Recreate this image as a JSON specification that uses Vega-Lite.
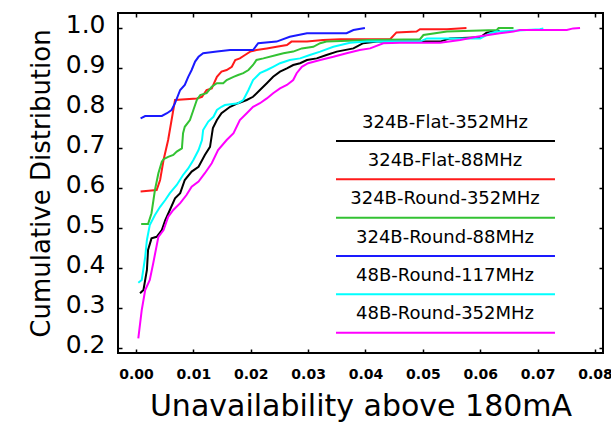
{
  "$schema": "https://vega.github.io/schema/vega-lite/v6.json",
  "width": 485,
  "height": 340,
  "autosize": "none",
  "padding": {"left": 118, "top": 13, "right": 8, "bottom": 69},
  "background": "white",
  "config": {
    "view": {"stroke": "#000000", "strokeWidth": 2},
    "font": "DejaVu Sans"
  },
  "datasets": {
    "curves": [
      {"s": "324B-Flat-352MHz", "x": 0.0007, "y": 0.337},
      {"s": "324B-Flat-352MHz", "x": 0.0013, "y": 0.345},
      {"s": "324B-Flat-352MHz", "x": 0.0019, "y": 0.395},
      {"s": "324B-Flat-352MHz", "x": 0.0021, "y": 0.445},
      {"s": "324B-Flat-352MHz", "x": 0.0027, "y": 0.474},
      {"s": "324B-Flat-352MHz", "x": 0.0036, "y": 0.478},
      {"s": "324B-Flat-352MHz", "x": 0.0045, "y": 0.495},
      {"s": "324B-Flat-352MHz", "x": 0.0051, "y": 0.52},
      {"s": "324B-Flat-352MHz", "x": 0.0059, "y": 0.545},
      {"s": "324B-Flat-352MHz", "x": 0.0068, "y": 0.574},
      {"s": "324B-Flat-352MHz", "x": 0.0077, "y": 0.587},
      {"s": "324B-Flat-352MHz", "x": 0.0085, "y": 0.62},
      {"s": "324B-Flat-352MHz", "x": 0.0097, "y": 0.641},
      {"s": "324B-Flat-352MHz", "x": 0.0109, "y": 0.653},
      {"s": "324B-Flat-352MHz", "x": 0.012, "y": 0.6825},
      {"s": "324B-Flat-352MHz", "x": 0.0129, "y": 0.703},
      {"s": "324B-Flat-352MHz", "x": 0.0134, "y": 0.75},
      {"s": "324B-Flat-352MHz", "x": 0.0141, "y": 0.77},
      {"s": "324B-Flat-352MHz", "x": 0.0149, "y": 0.787},
      {"s": "324B-Flat-352MHz", "x": 0.0164, "y": 0.803},
      {"s": "324B-Flat-352MHz", "x": 0.0178, "y": 0.812},
      {"s": "324B-Flat-352MHz", "x": 0.0193, "y": 0.82},
      {"s": "324B-Flat-352MHz", "x": 0.0204, "y": 0.828},
      {"s": "324B-Flat-352MHz", "x": 0.0216, "y": 0.845},
      {"s": "324B-Flat-352MHz", "x": 0.0228, "y": 0.862},
      {"s": "324B-Flat-352MHz", "x": 0.0239, "y": 0.878},
      {"s": "324B-Flat-352MHz", "x": 0.0251, "y": 0.891},
      {"s": "324B-Flat-352MHz", "x": 0.0263, "y": 0.899},
      {"s": "324B-Flat-352MHz", "x": 0.0274, "y": 0.9075},
      {"s": "324B-Flat-352MHz", "x": 0.0286, "y": 0.912},
      {"s": "324B-Flat-352MHz", "x": 0.0298, "y": 0.92},
      {"s": "324B-Flat-352MHz", "x": 0.0315, "y": 0.924},
      {"s": "324B-Flat-352MHz", "x": 0.0332, "y": 0.9325},
      {"s": "324B-Flat-352MHz", "x": 0.035, "y": 0.941},
      {"s": "324B-Flat-352MHz", "x": 0.0379, "y": 0.949},
      {"s": "324B-Flat-352MHz", "x": 0.0396, "y": 0.962},
      {"s": "324B-Flat-352MHz", "x": 0.042, "y": 0.966},
      {"s": "324B-Flat-352MHz", "x": 0.053, "y": 0.966},
      {"s": "324B-Flat-352MHz", "x": 0.0547, "y": 0.974},
      {"s": "324B-Flat-352MHz", "x": 0.06, "y": 0.977},
      {"s": "324B-Flat-352MHz", "x": 0.0611, "y": 0.988},
      {"s": "324B-Flat-352MHz", "x": 0.0634, "y": 0.993},

      {"s": "324B-Flat-88MHz", "x": 0.0008, "y": 0.591},
      {"s": "324B-Flat-88MHz", "x": 0.0036, "y": 0.595},
      {"s": "324B-Flat-88MHz", "x": 0.0042, "y": 0.62},
      {"s": "324B-Flat-88MHz", "x": 0.0048, "y": 0.67},
      {"s": "324B-Flat-88MHz", "x": 0.0056, "y": 0.72},
      {"s": "324B-Flat-88MHz", "x": 0.0062, "y": 0.77},
      {"s": "324B-Flat-88MHz", "x": 0.0068, "y": 0.82},
      {"s": "324B-Flat-88MHz", "x": 0.0106, "y": 0.824},
      {"s": "324B-Flat-88MHz", "x": 0.0115, "y": 0.828},
      {"s": "324B-Flat-88MHz", "x": 0.0123, "y": 0.845},
      {"s": "324B-Flat-88MHz", "x": 0.0132, "y": 0.849},
      {"s": "324B-Flat-88MHz", "x": 0.0141, "y": 0.878},
      {"s": "324B-Flat-88MHz", "x": 0.0149, "y": 0.891},
      {"s": "324B-Flat-88MHz", "x": 0.0158, "y": 0.895},
      {"s": "324B-Flat-88MHz", "x": 0.0167, "y": 0.903},
      {"s": "324B-Flat-88MHz", "x": 0.0173, "y": 0.92},
      {"s": "324B-Flat-88MHz", "x": 0.0181, "y": 0.924},
      {"s": "324B-Flat-88MHz", "x": 0.019, "y": 0.9325},
      {"s": "324B-Flat-88MHz", "x": 0.0199, "y": 0.941},
      {"s": "324B-Flat-88MHz", "x": 0.021, "y": 0.945},
      {"s": "324B-Flat-88MHz", "x": 0.0228, "y": 0.949},
      {"s": "324B-Flat-88MHz", "x": 0.0245, "y": 0.953},
      {"s": "324B-Flat-88MHz", "x": 0.0263, "y": 0.9575},
      {"s": "324B-Flat-88MHz", "x": 0.0271, "y": 0.966},
      {"s": "324B-Flat-88MHz", "x": 0.0298, "y": 0.966},
      {"s": "324B-Flat-88MHz", "x": 0.0326, "y": 0.97},
      {"s": "324B-Flat-88MHz", "x": 0.0356, "y": 0.972},
      {"s": "324B-Flat-88MHz", "x": 0.0443, "y": 0.972},
      {"s": "324B-Flat-88MHz", "x": 0.0454, "y": 0.989},
      {"s": "324B-Flat-88MHz", "x": 0.0489, "y": 0.991},
      {"s": "324B-Flat-88MHz", "x": 0.0495, "y": 0.997},
      {"s": "324B-Flat-88MHz", "x": 0.0542, "y": 0.997},
      {"s": "324B-Flat-88MHz", "x": 0.0576, "y": 1.0},

      {"s": "324B-Round-352MHz", "x": 0.0009, "y": 0.51},
      {"s": "324B-Round-352MHz", "x": 0.0021, "y": 0.51},
      {"s": "324B-Round-352MHz", "x": 0.0027, "y": 0.537},
      {"s": "324B-Round-352MHz", "x": 0.0033, "y": 0.595},
      {"s": "324B-Round-352MHz", "x": 0.0039, "y": 0.637},
      {"s": "324B-Round-352MHz", "x": 0.0045, "y": 0.666},
      {"s": "324B-Round-352MHz", "x": 0.0048, "y": 0.672},
      {"s": "324B-Round-352MHz", "x": 0.0056, "y": 0.678},
      {"s": "324B-Round-352MHz", "x": 0.0065, "y": 0.6825},
      {"s": "324B-Round-352MHz", "x": 0.0071, "y": 0.691},
      {"s": "324B-Round-352MHz", "x": 0.008, "y": 0.699},
      {"s": "324B-Round-352MHz", "x": 0.0082, "y": 0.737},
      {"s": "324B-Round-352MHz", "x": 0.0085, "y": 0.753},
      {"s": "324B-Round-352MHz", "x": 0.0094, "y": 0.77},
      {"s": "324B-Round-352MHz", "x": 0.01, "y": 0.795},
      {"s": "324B-Round-352MHz", "x": 0.0106, "y": 0.82},
      {"s": "324B-Round-352MHz", "x": 0.0112, "y": 0.8325},
      {"s": "324B-Round-352MHz", "x": 0.0123, "y": 0.837},
      {"s": "324B-Round-352MHz", "x": 0.0132, "y": 0.853},
      {"s": "324B-Round-352MHz", "x": 0.0141, "y": 0.862},
      {"s": "324B-Round-352MHz", "x": 0.0152, "y": 0.862},
      {"s": "324B-Round-352MHz", "x": 0.0158, "y": 0.87},
      {"s": "324B-Round-352MHz", "x": 0.017, "y": 0.878},
      {"s": "324B-Round-352MHz", "x": 0.0178, "y": 0.8825},
      {"s": "324B-Round-352MHz", "x": 0.0187, "y": 0.887},
      {"s": "324B-Round-352MHz", "x": 0.0196, "y": 0.895},
      {"s": "324B-Round-352MHz", "x": 0.0204, "y": 0.9075},
      {"s": "324B-Round-352MHz", "x": 0.021, "y": 0.92},
      {"s": "324B-Round-352MHz", "x": 0.0222, "y": 0.924},
      {"s": "324B-Round-352MHz", "x": 0.0245, "y": 0.9325},
      {"s": "324B-Round-352MHz", "x": 0.0257, "y": 0.937},
      {"s": "324B-Round-352MHz", "x": 0.0274, "y": 0.941},
      {"s": "324B-Round-352MHz", "x": 0.0289, "y": 0.949},
      {"s": "324B-Round-352MHz", "x": 0.0309, "y": 0.953},
      {"s": "324B-Round-352MHz", "x": 0.0321, "y": 0.962},
      {"s": "324B-Round-352MHz", "x": 0.0332, "y": 0.966},
      {"s": "324B-Round-352MHz", "x": 0.0408, "y": 0.97},
      {"s": "324B-Round-352MHz", "x": 0.0495, "y": 0.972},
      {"s": "324B-Round-352MHz", "x": 0.0501, "y": 0.9825},
      {"s": "324B-Round-352MHz", "x": 0.0542, "y": 0.991},
      {"s": "324B-Round-352MHz", "x": 0.0629, "y": 0.995},
      {"s": "324B-Round-352MHz", "x": 0.0632, "y": 1.0},
      {"s": "324B-Round-352MHz", "x": 0.0658, "y": 1.0},

      {"s": "324B-Round-88MHz", "x": 0.0008, "y": 0.774},
      {"s": "324B-Round-88MHz", "x": 0.0016, "y": 0.78},
      {"s": "324B-Round-88MHz", "x": 0.0045, "y": 0.78},
      {"s": "324B-Round-88MHz", "x": 0.0054, "y": 0.787},
      {"s": "324B-Round-88MHz", "x": 0.0062, "y": 0.795},
      {"s": "324B-Round-88MHz", "x": 0.0068, "y": 0.812},
      {"s": "324B-Round-88MHz", "x": 0.0077, "y": 0.845},
      {"s": "324B-Round-88MHz", "x": 0.0085, "y": 0.8575},
      {"s": "324B-Round-88MHz", "x": 0.0091, "y": 0.878},
      {"s": "324B-Round-88MHz", "x": 0.0097, "y": 0.895},
      {"s": "324B-Round-88MHz", "x": 0.0103, "y": 0.916},
      {"s": "324B-Round-88MHz", "x": 0.0109, "y": 0.928},
      {"s": "324B-Round-88MHz", "x": 0.0117, "y": 0.937},
      {"s": "324B-Round-88MHz", "x": 0.0141, "y": 0.941},
      {"s": "324B-Round-88MHz", "x": 0.0164, "y": 0.945},
      {"s": "324B-Round-88MHz", "x": 0.0204, "y": 0.945},
      {"s": "324B-Round-88MHz", "x": 0.0213, "y": 0.962},
      {"s": "324B-Round-88MHz", "x": 0.0245, "y": 0.966},
      {"s": "324B-Round-88MHz", "x": 0.0268, "y": 0.978},
      {"s": "324B-Round-88MHz", "x": 0.0298, "y": 0.987},
      {"s": "324B-Round-88MHz", "x": 0.0367, "y": 0.987},
      {"s": "324B-Round-88MHz", "x": 0.0379, "y": 0.995},
      {"s": "324B-Round-88MHz", "x": 0.0399, "y": 1.0},

      {"s": "48B-Round-117MHz", "x": 0.0004, "y": 0.363},
      {"s": "48B-Round-117MHz", "x": 0.001, "y": 0.37},
      {"s": "48B-Round-117MHz", "x": 0.0016, "y": 0.428},
      {"s": "48B-Round-117MHz", "x": 0.0019, "y": 0.47},
      {"s": "48B-Round-117MHz", "x": 0.0024, "y": 0.5075},
      {"s": "48B-Round-117MHz", "x": 0.0033, "y": 0.5325},
      {"s": "48B-Round-117MHz", "x": 0.0042, "y": 0.553},
      {"s": "48B-Round-117MHz", "x": 0.0051, "y": 0.57},
      {"s": "48B-Round-117MHz", "x": 0.0059, "y": 0.587},
      {"s": "48B-Round-117MHz", "x": 0.0071, "y": 0.6075},
      {"s": "48B-Round-117MHz", "x": 0.0082, "y": 0.6325},
      {"s": "48B-Round-117MHz", "x": 0.0091, "y": 0.649},
      {"s": "48B-Round-117MHz", "x": 0.01, "y": 0.67},
      {"s": "48B-Round-117MHz", "x": 0.0109, "y": 0.695},
      {"s": "48B-Round-117MHz", "x": 0.0115, "y": 0.72},
      {"s": "48B-Round-117MHz", "x": 0.0117, "y": 0.745},
      {"s": "48B-Round-117MHz", "x": 0.0126, "y": 0.766},
      {"s": "48B-Round-117MHz", "x": 0.0135, "y": 0.778},
      {"s": "48B-Round-117MHz", "x": 0.0141, "y": 0.795},
      {"s": "48B-Round-117MHz", "x": 0.0149, "y": 0.803},
      {"s": "48B-Round-117MHz", "x": 0.0155, "y": 0.8075},
      {"s": "48B-Round-117MHz", "x": 0.0178, "y": 0.812},
      {"s": "48B-Round-117MHz", "x": 0.0187, "y": 0.82},
      {"s": "48B-Round-117MHz", "x": 0.0196, "y": 0.845},
      {"s": "48B-Round-117MHz", "x": 0.0204, "y": 0.87},
      {"s": "48B-Round-117MHz", "x": 0.0216, "y": 0.887},
      {"s": "48B-Round-117MHz", "x": 0.0228, "y": 0.895},
      {"s": "48B-Round-117MHz", "x": 0.0239, "y": 0.903},
      {"s": "48B-Round-117MHz", "x": 0.0251, "y": 0.912},
      {"s": "48B-Round-117MHz", "x": 0.0268, "y": 0.92},
      {"s": "48B-Round-117MHz", "x": 0.0286, "y": 0.924},
      {"s": "48B-Round-117MHz", "x": 0.0303, "y": 0.9325},
      {"s": "48B-Round-117MHz", "x": 0.0321, "y": 0.941},
      {"s": "48B-Round-117MHz", "x": 0.0344, "y": 0.953},
      {"s": "48B-Round-117MHz", "x": 0.0373, "y": 0.963},
      {"s": "48B-Round-117MHz", "x": 0.0402, "y": 0.966},
      {"s": "48B-Round-117MHz", "x": 0.0495, "y": 0.966},
      {"s": "48B-Round-117MHz", "x": 0.0507, "y": 0.974},
      {"s": "48B-Round-117MHz", "x": 0.06, "y": 0.974},
      {"s": "48B-Round-117MHz", "x": 0.0617, "y": 0.987},
      {"s": "48B-Round-117MHz", "x": 0.0629, "y": 0.991},
      {"s": "48B-Round-117MHz", "x": 0.0658, "y": 0.993},
      {"s": "48B-Round-117MHz", "x": 0.0704, "y": 0.997},
      {"s": "48B-Round-117MHz", "x": 0.071, "y": 0.999},

      {"s": "48B-Round-352MHz", "x": 0.0004, "y": 0.224},
      {"s": "48B-Round-352MHz", "x": 0.001, "y": 0.295},
      {"s": "48B-Round-352MHz", "x": 0.0016, "y": 0.345},
      {"s": "48B-Round-352MHz", "x": 0.0024, "y": 0.37},
      {"s": "48B-Round-352MHz", "x": 0.003, "y": 0.412},
      {"s": "48B-Round-352MHz", "x": 0.0039, "y": 0.478},
      {"s": "48B-Round-352MHz", "x": 0.0048, "y": 0.495},
      {"s": "48B-Round-352MHz", "x": 0.0056, "y": 0.528},
      {"s": "48B-Round-352MHz", "x": 0.0065, "y": 0.545},
      {"s": "48B-Round-352MHz", "x": 0.0077, "y": 0.562},
      {"s": "48B-Round-352MHz", "x": 0.0088, "y": 0.5825},
      {"s": "48B-Round-352MHz", "x": 0.0097, "y": 0.603},
      {"s": "48B-Round-352MHz", "x": 0.0109, "y": 0.616},
      {"s": "48B-Round-352MHz", "x": 0.012, "y": 0.637},
      {"s": "48B-Round-352MHz", "x": 0.0132, "y": 0.662},
      {"s": "48B-Round-352MHz", "x": 0.0143, "y": 0.695},
      {"s": "48B-Round-352MHz", "x": 0.0158, "y": 0.72},
      {"s": "48B-Round-352MHz", "x": 0.017, "y": 0.737},
      {"s": "48B-Round-352MHz", "x": 0.0181, "y": 0.77},
      {"s": "48B-Round-352MHz", "x": 0.0193, "y": 0.787},
      {"s": "48B-Round-352MHz", "x": 0.0204, "y": 0.803},
      {"s": "48B-Round-352MHz", "x": 0.0216, "y": 0.812},
      {"s": "48B-Round-352MHz", "x": 0.0228, "y": 0.824},
      {"s": "48B-Round-352MHz", "x": 0.0239, "y": 0.837},
      {"s": "48B-Round-352MHz", "x": 0.0251, "y": 0.849},
      {"s": "48B-Round-352MHz", "x": 0.0263, "y": 0.8575},
      {"s": "48B-Round-352MHz", "x": 0.0274, "y": 0.87},
      {"s": "48B-Round-352MHz", "x": 0.028, "y": 0.887},
      {"s": "48B-Round-352MHz", "x": 0.0289, "y": 0.903},
      {"s": "48B-Round-352MHz", "x": 0.03, "y": 0.912},
      {"s": "48B-Round-352MHz", "x": 0.0321, "y": 0.92},
      {"s": "48B-Round-352MHz", "x": 0.0344, "y": 0.928},
      {"s": "48B-Round-352MHz", "x": 0.0367, "y": 0.937},
      {"s": "48B-Round-352MHz", "x": 0.039, "y": 0.945},
      {"s": "48B-Round-352MHz", "x": 0.0408, "y": 0.949},
      {"s": "48B-Round-352MHz", "x": 0.0431, "y": 0.962},
      {"s": "48B-Round-352MHz", "x": 0.046, "y": 0.963},
      {"s": "48B-Round-352MHz", "x": 0.053, "y": 0.963},
      {"s": "48B-Round-352MHz", "x": 0.0565, "y": 0.97},
      {"s": "48B-Round-352MHz", "x": 0.0594, "y": 0.978},
      {"s": "48B-Round-352MHz", "x": 0.0634, "y": 0.987},
      {"s": "48B-Round-352MHz", "x": 0.0658, "y": 0.991},
      {"s": "48B-Round-352MHz", "x": 0.0669, "y": 0.995},
      {"s": "48B-Round-352MHz", "x": 0.0751, "y": 0.995},
      {"s": "48B-Round-352MHz", "x": 0.0762, "y": 0.999},
      {"s": "48B-Round-352MHz", "x": 0.0774, "y": 1.0}
    ],
    "legend": [
      {"s": "324B-Flat-352MHz"},
      {"s": "324B-Flat-88MHz"},
      {"s": "324B-Round-352MHz"},
      {"s": "324B-Round-88MHz"},
      {"s": "48B-Round-117MHz"},
      {"s": "48B-Round-352MHz"}
    ]
  },
  "layer": [
    {
      "data": {"name": "curves"},
      "mark": {"type": "line", "strokeWidth": 2, "clip": true},
      "encoding": {
        "x": {
          "field": "x", "type": "quantitative",
          "scale": {"domain": [-0.00314, 0.0814], "nice": false, "zero": false},
          "axis": {
            "orient": "bottom",
            "values": [0, 0.01, 0.02, 0.03, 0.04, 0.05, 0.06, 0.07, 0.08],
            "format": ".2f",
            "labelFont": "DejaVu Sans", "labelFontSize": 14, "labelFontWeight": "bold",
            "labelColor": "#000000", "labelFlush": false, "labelPadding": 18,
            "tickSize": -4, "tickColor": "#000000", "tickWidth": 1.5,
            "domain": false, "grid": false,
            "title": "Unavailability above 180mA",
            "titleFont": "DejaVu Sans", "titleFontSize": 30, "titleFontWeight": "normal",
            "titleColor": "#000000", "titlePadding": 10
          }
        },
        "y": {
          "field": "y", "type": "quantitative",
          "scale": {"domain": [0.1875, 1.0375], "nice": false, "zero": false},
          "axis": {
            "orient": "left",
            "values": [0.2, 0.3, 0.4, 0.5, 0.6, 0.7, 0.8, 0.9, 1.0],
            "format": ".1f",
            "labelFont": "DejaVu Sans", "labelFontSize": 25,
            "labelColor": "#000000", "labelPadding": 17, "labelOffset": -4, "labelFlush": false,
            "tickSize": -4, "tickColor": "#000000", "tickWidth": 1.5,
            "domain": false, "grid": false,
            "title": "Cumulative Distribution",
            "titleFont": "DejaVu Sans", "titleFontSize": 26, "titleFontWeight": "normal",
            "titleColor": "#000000", "titlePadding": 11
          }
        },
        "color": {
          "field": "s", "type": "nominal",
          "scale": {
            "domain": ["324B-Flat-352MHz", "324B-Flat-88MHz", "324B-Round-352MHz", "324B-Round-88MHz", "48B-Round-117MHz", "48B-Round-352MHz"],
            "range": ["#000000", "#ff1a1a", "#33c233", "#1a1aff", "#00ffff", "#ff00ff"]
          },
          "legend": null
        }
      }
    },
    {
      "data": {"values": [{}]},
      "mark": {"type": "point", "opacity": 0},
      "encoding": {
        "x": {
          "datum": 0.04, "type": "quantitative",
          "scale": {"domain": [-0.00314, 0.0814], "nice": false, "zero": false},
          "axis": {
            "orient": "top",
            "values": [0, 0.01, 0.02, 0.03, 0.04, 0.05, 0.06, 0.07, 0.08],
            "labels": false, "tickSize": -4, "tickColor": "#000000", "tickWidth": 1.5,
            "domain": false, "grid": false, "title": null
          }
        },
        "y": {
          "datum": 0.5, "type": "quantitative",
          "scale": {"domain": [0.1875, 1.0375], "nice": false, "zero": false},
          "axis": {
            "orient": "right",
            "values": [0.2, 0.3, 0.4, 0.5, 0.6, 0.7, 0.8, 0.9, 1.0],
            "labels": false, "tickSize": -4, "tickColor": "#000000", "tickWidth": 1.5,
            "domain": false, "grid": false, "title": null
          }
        }
      }
    },
    {
      "data": {"name": "legend"},
      "mark": {"type": "rule", "strokeWidth": 2},
      "encoding": {
        "x": {"datum": 0.03486, "type": "quantitative", "scale": {"domain": [-0.00314, 0.0814], "nice": false, "zero": false}, "axis": null},
        "x2": {"datum": 0.07303},
        "y": {
          "field": "s", "type": "nominal",
          "scale": {"type": "point", "domain": ["324B-Flat-352MHz", "324B-Flat-88MHz", "324B-Round-352MHz", "324B-Round-88MHz", "48B-Round-117MHz", "48B-Round-352MHz"], "range": [128, 319.7], "padding": 0},
          "axis": null
        },
        "color": {"field": "s", "type": "nominal", "legend": null}
      }
    },
    {
      "data": {"name": "legend"},
      "mark": {"type": "text", "font": "DejaVu Sans", "fontSize": 18, "color": "#000000", "align": "center", "baseline": "middle"},
      "encoding": {
        "x": {"datum": 0.05386, "type": "quantitative", "scale": {"domain": [-0.00314, 0.0814], "nice": false, "zero": false}, "axis": null},
        "y": {
          "field": "s", "type": "nominal",
          "scale": {"type": "point", "domain": ["324B-Flat-352MHz", "324B-Flat-88MHz", "324B-Round-352MHz", "324B-Round-88MHz", "48B-Round-117MHz", "48B-Round-352MHz"], "range": [109.7, 301.3], "padding": 0},
          "axis": null
        },
        "text": {"field": "s", "type": "nominal"}
      }
    }
  ],
  "resolve": {
    "scale": {"y": "independent"},
    "axis": {"x": "independent", "y": "independent"}
  }
}
